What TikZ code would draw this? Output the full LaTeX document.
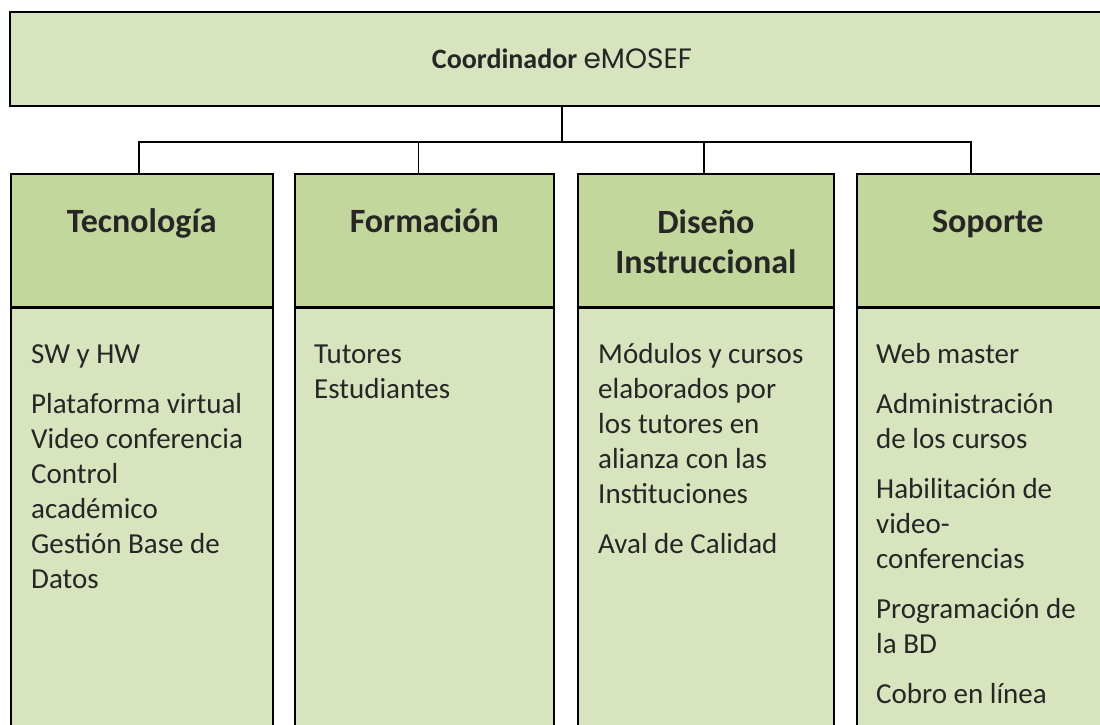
\documentclass[tikz,border=0pt]{standalone}
\usepackage{fontspec}
\setmainfont{Carlito}
\newfontfamily\gothic{Poppins}
\usetikzlibrary{calc}
\definecolor{lightolive}{HTML}{D7E4BD}
\definecolor{midolive}{HTML}{C3D69B}
\definecolor{inkgray}{HTML}{262626}
\newcommand{\leftstack}[1]{\begin{tabular}[t]{@{}l@{}}#1\end{tabular}}
\newcommand{\midstack}[1]{\begin{tabular}[t]{@{}c@{}}#1\end{tabular}}
\tikzset{
  boss/.style={draw, line width=1.6pt, fill=lightolive, inner sep=0pt,
    minimum width=1104pt, minimum height=94pt, text=inkgray,
    font=\fontsize{28}{34}\selectfont},
  headbox/.style={draw, line width=1.6pt, fill=midolive, inner sep=0pt, minimum height=133pt},
  bodybox/.style={draw, line width=1.6pt, fill=lightolive, inner sep=0pt, minimum height=440pt},
  headtext/.style={font=\fontsize{34}{40}\selectfont\bfseries, text=inkgray,
    inner sep=0pt, anchor=base},
  bodytext/.style={font=\fontsize{29}{35}\selectfont, text=inkgray,
    inner sep=0pt, anchor=base west},
  conn/.style={line width=1.6pt},
}
\begin{document}
\begin{tikzpicture}[x=1pt, y=-1pt]
\clip (0,0) rectangle (1100,724);
\fill[white] (0,0) rectangle (1100,724);
\node[boss] (boss) at (562,59) {\textbf{Coordinador} {\gothic eMOSEF}};
\foreach \name/\x/\w in {tecno/10/262, forma/294/259, disen/577/256, sopor/856/262} % edit here for the columns
{
  \node[headbox, minimum width=\w pt, anchor=north west] (\name) at (\x,173) {};
  \node[bodybox, minimum width=\w pt, anchor=north] (\name b) at (\name.south) {};
}
% titles
\node[headtext] (tecnoT) at ([yshift=-59pt]tecno.north) {Tecnología};
\node[headtext] (formaT) at ([yshift=-59pt]forma.north) {Formación};
\node[headtext] (disenT) at ([yshift=-60pt]disen.north) {\midstack{Diseño\\Instruccional}};
\node[headtext] (soporT) at ([yshift=-59pt]sopor.north) {Soporte};
% items
\node[bodytext] (tecnoL) at ([xshift=21pt,yshift=-56pt]tecnob.north west)
  {\leftstack{SW y HW\\[15pt]Plataforma virtual\\Video conferencia\\Control\\académico\\Gestión Base de\\Datos}};
\node[bodytext] (formaL) at ([xshift=20pt,yshift=-56pt]formab.north west)
  {\leftstack{Tutores\\Estudiantes}};
\node[bodytext] (disenL) at ([xshift=21pt,yshift=-56pt]disenb.north west)
  {\leftstack{Módulos y cursos\\elaborados por\\los tutores en\\alianza con las\\Instituciones\\[15pt]Aval de Calidad}};
\node[bodytext] (soporL) at ([xshift=20pt,yshift=-56pt]soporb.north west)
  {\leftstack{Web master\\[15pt]Administración\\de los cursos\\[15pt]Habilitación de\\video-\\conferencias\\[15pt]Programación de\\la BD\\[15pt]Cobro en línea}};
% connectors
\draw[conn] (boss.south) -- ++(0,35) coordinate (hub);
\draw[conn] ([xshift=-3pt]tecno.north) |- (hub) -| ([xshift=-17pt]sopor.north);
\draw[conn] ([xshift=-6pt]forma.north) -- ([xshift=-6pt]forma.north |- hub);
\draw[conn] ([xshift=-2pt]disen.north) -- ([xshift=-2pt]disen.north |- hub);
\end{tikzpicture}
\end{document}
